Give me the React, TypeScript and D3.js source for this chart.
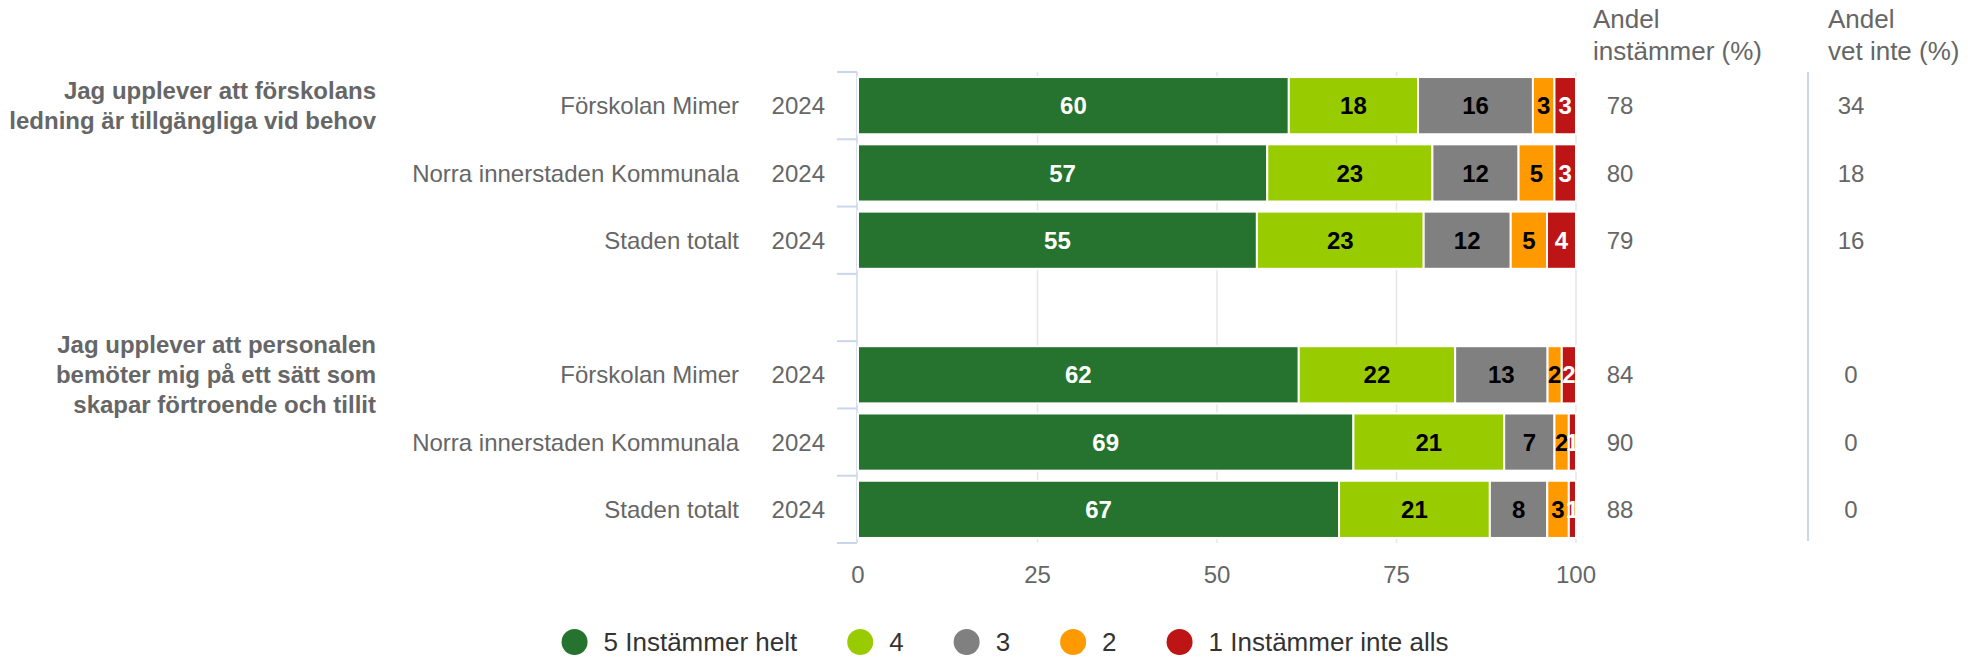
import React from "react";
import * as d3 from "d3";

const rowLabels = [
  "Förskolan Mimer",
  "Norra innerstaden Kommunala",
  "Staden totalt",
  "",
  "Förskolan Mimer",
  "Norra innerstaden Kommunala",
  "Staden totalt",
];
const rowYears = ["2024", "2024", "2024", "", "2024", "2024", "2024"];
const questionLines = [
  ["Jag upplever att förskolans", "ledning är tillgängliga vid behov"],
  ["Jag upplever att personalen", "bemöter mig på ett sätt som", "skapar förtroende och tillit"],
];
const questionRows = [0, 4];

const seriesNames = ["5 Instämmer helt", "4", "3", "2", "1 Instämmer inte alls"];
const seriesColors = ["#26732f", "#99cc00", "#808080", "#ff9900", "#bd1515"];
const labelColors = ["#ffffff", "#000000", "#000000", "#000000", "#ffffff"];

// null = empty spacer row
const s5 = [60, 57, 55, null, 62, 69, 67];
const s4 = [18, 23, 23, null, 22, 21, 21];
const s3 = [16, 12, 12, null, 13, 7, 8];
const s2 = [3, 5, 5, null, 2, 2, 3];
const s1 = [3, 3, 4, null, 2, 1, 1];

const andelInstammer = [78, 80, 79, null, 84, 90, 88];
const andelVetInte = [34, 18, 16, null, 0, 0, 0];

const xTicks = [0, 25, 50, 75, 100];

const FONT = "'Liberation Sans', Arial, Helvetica, sans-serif";

function textWidth(str: string, font: string) {
  const c = document.createElement("canvas").getContext("2d");
  if (!c) return str.length * 13;
  c.font = font;
  return c.measureText(str).width;
}

export default function App() {
  const width = 1972;
  const height = 660;

  const x = d3.scaleLinear().domain([0, 1]).range([858, 1576]);
  const y = d3
    .scaleBand<number>()
    .domain(d3.range(rowLabels.length))
    .range([72, 543])
    .paddingInner(0.15)
    .paddingOuter(0.075);

  const rows = rowLabels.map((_, i) => ({
    i,
    v0: s5[i] ?? 0,
    v1: s4[i] ?? 0,
    v2: s3[i] ?? 0,
    v3: s2[i] ?? 0,
    v4: s1[i] ?? 0,
  }));
  const keys = ["v0", "v1", "v2", "v3", "v4"];
  const stacked = d3
    .stack<any>()
    .keys(keys)
    .offset(d3.stackOffsetExpand)(rows);
  const raw = [s5, s4, s3, s2, s1];

  const step = y.step();
  const r0 = y.range()[0];
  const boundaries = d3.range(rowLabels.length + 1).map((k) => r0 + k * step);

  // legend layout
  const legendFont = `26px ${FONT}`;
  const itemWidths = seriesNames.map((n) => 29 + textWidth(n, legendFont) + 13);
  const gap = 50;
  const totalW = d3.sum(itemWidths) + gap * (seriesNames.length - 1);
  let lx = 1005 - totalW / 2 + 13;
  const legendItems = seriesNames.map((n, k) => {
    const cx = lx;
    lx += itemWidths[k] + gap;
    return { n, cx, color: seriesColors[k] };
  });

  return (
    <svg
      width={width}
      height={height}
      style={{ position: "absolute", left: 0, top: 0, fontFamily: FONT }}
    >
      <rect width={width} height={height} fill="#ffffff" />

      {/* grid */}
      {xTicks.slice(1).map((t) => (
        <line
          key={t}
          x1={x(t / 100)}
          x2={x(t / 100)}
          y1={72}
          y2={543}
          stroke="#e6e6e6"
          strokeWidth={1.5}
        />
      ))}

      {/* category axis */}
      <line x1={857} x2={857} y1={72} y2={543} stroke="#ccd6eb" strokeWidth={1.5} />
      {boundaries.map((b, k) => (
        <line key={k} x1={837} x2={857} y1={b} y2={b} stroke="#ccd6eb" strokeWidth={2} />
      ))}

      {/* bars */}
      {stacked.map((layer, k) => (
        <g key={k} fill={seriesColors[k]}>
          {layer.map((d, i) =>
            raw[k][i] == null ? null : (
              <rect
                key={i}
                x={x(d[0])}
                y={y(i) as number}
                width={Math.max(0, x(d[1]) - x(d[0]))}
                height={y.bandwidth()}
                stroke="#ffffff"
                strokeWidth={2}
              />
            )
          )}
        </g>
      ))}

      {/* bar labels on top of all bars */}
      {stacked.map((layer, k) => (
        <g key={k} fontSize={24} fontWeight="bold" fill={labelColors[k]} textAnchor="middle">
          {layer.map((d, i) =>
            raw[k][i] == null ? null : (
              <text
                key={i}
                x={(x(d[0]) + x(d[1])) / 2}
                y={(y(i) as number) + y.bandwidth() / 2}
                dy="0.36em"
              >
                {raw[k][i]}
              </text>
            )
          )}
        </g>
      ))}

      {/* row labels */}
      {rowLabels.map((l, i) => {
        const cy = (y(i) as number) + y.bandwidth() / 2;
        return (
          <g key={i} fill="#666666" fontSize={24}>
            <text x={739} y={cy} dy="0.36em" textAnchor="end">
              {l}
            </text>
            <text x={825} y={cy} dy="0.36em" textAnchor="end">
              {rowYears[i]}
            </text>
            {andelInstammer[i] != null && (
              <text x={1620} y={cy} dy="0.36em" textAnchor="middle">
                {andelInstammer[i]}
              </text>
            )}
            {andelVetInte[i] != null && (
              <text x={1851} y={cy} dy="0.36em" textAnchor="middle">
                {andelVetInte[i]}
              </text>
            )}
          </g>
        );
      })}

      {/* question labels */}
      {questionLines.map((lines, q) => {
        const cy = (y(questionRows[q]) as number) + y.bandwidth() / 2;
        const top = cy - ((lines.length - 1) * 30) / 2;
        return (
          <text
            key={q}
            fill="#666666"
            fontSize={24}
            fontWeight="bold"
            textAnchor="end"
          >
            {lines.map((ln, j) => (
              <tspan key={j} x={376} y={top + j * 30} dy="0.36em">
                {ln}
              </tspan>
            ))}
          </text>
        );
      })}

      {/* x axis labels */}
      {xTicks.map((t) => (
        <text
          key={t}
          x={x(t / 100)}
          y={583}
          textAnchor="middle"
          fontSize={24}
          fill="#666666"
        >
          {t}
        </text>
      ))}

      {/* right column headers */}
      <line x1={1808} x2={1808} y1={72} y2={541} stroke="#ccd6eb" strokeWidth={2} />
      <g fill="#666666" fontSize={26}>
        <text x={1593} y={28}>Andel</text>
        <text x={1593} y={60}>instämmer (%)</text>
        <text x={1828} y={28}>Andel</text>
        <text x={1828} y={60}>vet inte (%)</text>
      </g>

      {/* legend */}
      {legendItems.map((it) => (
        <g key={it.n}>
          <circle cx={it.cx} cy={642} r={13} fill={it.color} />
          <text x={it.cx + 29} y={642} dy="0.36em" fontSize={26} fill="#333333">
            {it.n}
          </text>
        </g>
      ))}
    </svg>
  );
}
